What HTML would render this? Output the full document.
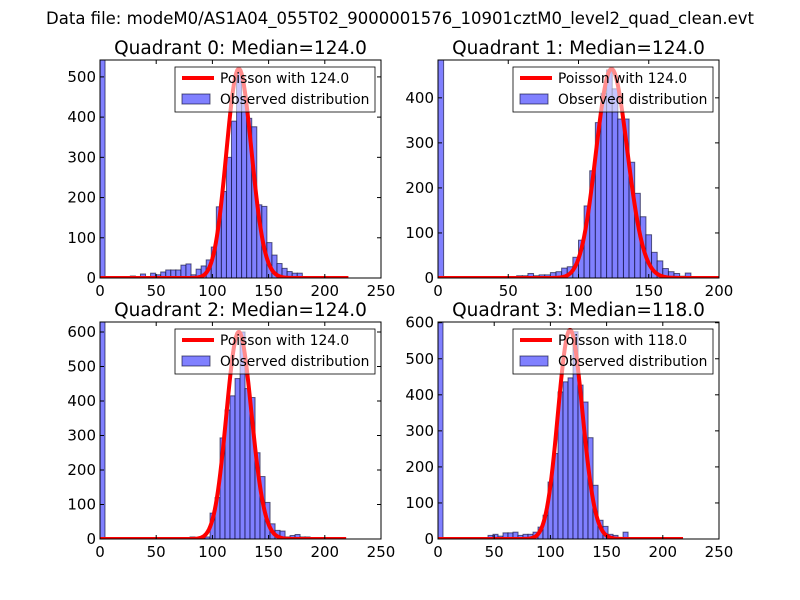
<!DOCTYPE html>
<html><head><meta charset="utf-8"><style>
body{margin:0;background:#fff;}
svg{display:block;font-family:"DejaVu Sans","Liberation Sans",sans-serif;}
</style></head><body>
<svg id="fig" width="800" height="600" viewBox="0 0 800 600">
<rect width="800" height="600" fill="#fff"/>
<text x="400" y="24" text-anchor="middle" font-size="16.5">Data file: modeM0/AS1A04_055T02_9000001576_10901cztM0_level2_quad_clean.evt</text>
</svg>
<script>
const q0Counts=[542,0,0,0,0,0,5,0,10,3,12,8,15,20,20,20,32,35,8,22,30,45,77,177,215,300,390,517,450,397,376,182,178,88,57,36,24,16,12,12,2,2,1,1];
const q1Counts=[484,0,0,0,0,0,0,0,0,0,0,0,2,3,5,5,10,5,7,7,12,14,22,25,46,84,160,238,345,410,462,420,353,353,257,188,136,96,57,38,21,14,10,4,11,2,1];
const q2Counts=[629,0,0,0,0,0,0,0,0,0,0,0,0,0,0,0,1,2,6,3,2,6,75,120,293,374,415,465,600,436,410,250,181,106,44,25,23,6,10,13,6,6,2,1];
const q3Counts=[602,0,0,0,0,0,0,0,0,0,10,13,8,17,17,19,10,13,13,19,33,66,158,237,408,436,447,575,427,380,281,149,52,35,13,10,4,19,4,2,3];
const binWidths=[4.5,4.0,4.45,4.45];
const medians=[124.0,124.0,124.0,118.0];
const poissonScale=[14525,12960,16760,15800];
const curveMax=[221,200,219,218];
const xMaxes=[250,200,250,250];
const yMaxes=[542,484,629,602];
const xTicks=[[0,50,100,150,200,250],[0,50,100,150,200],[0,50,100,150,200,250],[0,50,100,150,200,250]];
const yTicks=[[0,100,200,300,400,500],[0,100,200,300,400],[0,100,200,300,400,500,600],[0,100,200,300,400,500,600]];
const allCounts=[q0Counts,q1Counts,q2Counts,q3Counts];
const NS="http://www.w3.org/2000/svg";
const fig=document.getElementById('fig');
function mk(tag,attrs,parent){const e=document.createElementNS(NS,tag);for(const k in attrs)e.setAttribute(k,attrs[k]);(parent||fig).appendChild(e);return e;}
function lpmf(k,l){let lg=0;for(let i=2;i<=k;i++)lg+=Math.log(i);return k*Math.log(l)-l-lg;}
const boxes=[[100,60,381,278],[438,60,719,278],[100,322,381,539],[438,322,719,539]];
for(let q=0;q<4;q++){
  const [L,T,R,B]=boxes[q];
  const g=mk('g',{});
  
  
  const xs=v=>L+v/xMaxes[q]*(R-L);
  const ys=v=>B-v/yMaxes[q]*(B-T);
  const clipId='clip'+q;
  const cp=mk('clipPath',{id:clipId},g);mk('rect',{x:L,y:T,width:R-L,height:B-T},cp);
  const plot=mk('g',{'clip-path':'url(#'+clipId+')'},g);
  const counts=allCounts[q],w=binWidths[q];
  counts.forEach((c,i)=>{
    if(c<=0)return;
    const r=mk('rect',{x:xs(i*w),y:ys(c),width:xs((i+1)*w)-xs(i*w),height:B-ys(c),fill:'#8080ff',stroke:'rgba(0,0,40,0.6)','stroke-width':1},plot);
    
    
  });
  let pts=[];
  for(let k=0;k<=curveMax[q];k++){pts.push(xs(k).toFixed(2)+','+ys(poissonScale[q]*Math.exp(lpmf(k,medians[q]))).toFixed(2));}
  const pl=mk('polyline',{points:pts.join(' '),fill:'none',stroke:'#ff0000','stroke-width':4,'stroke-linejoin':'round'},plot);
  
  
  mk('rect',{x:L,y:T,width:R-L,height:B-T,fill:'none',stroke:'#000','stroke-width':1},g);
  xTicks[q].forEach(v=>{
    const x=xs(v);
    mk('line',{x1:x,y1:B,x2:x,y2:B-4,stroke:'#000'},g);
    mk('line',{x1:x,y1:T,x2:x,y2:T+4,stroke:'#000'},g);
    const t=mk('text',{x:x,y:B+18,'text-anchor':'middle','font-size':15},g);t.textContent=v;
    
    
  });
  yTicks[q].forEach(v=>{
    const y=ys(v);
    mk('line',{x1:L,y1:y,x2:L+4,y2:y,stroke:'#000'},g);
    mk('line',{x1:R,y1:y,x2:R-4,y2:y,stroke:'#000'},g);
    const t=mk('text',{x:L-4,y:y+5,'text-anchor':'end','font-size':15},g);t.textContent=v;
    
    
  });
  const ti=mk('text',{x:(L+R)/2,y:T-6,'text-anchor':'middle','font-size':18.5},g);
  ti.textContent='Quadrant '+q+': Median='+medians[q].toFixed(1);
  
  
  const lg=mk('g',{},g);
  
  
  const lx=L+75,ly=T+7;
  mk('rect',{x:lx,y:ly,width:200,height:45,fill:'rgba(255,255,255,0.55)',stroke:'#000','stroke-width':0.8},lg);
  mk('line',{x1:lx+7,y1:ly+11,x2:lx+39,y2:ly+11,stroke:'#ff0000','stroke-width':4},lg);
  const t1=mk('text',{x:lx+45,y:ly+16,'font-size':13.8},lg);t1.textContent='Poisson with '+medians[q].toFixed(1);
  
  
  mk('rect',{x:lx+7,y:ly+27,width:28,height:10,fill:'#8080ff',stroke:'rgba(0,0,40,0.6)'},lg);
  const t2=mk('text',{x:lx+45,y:ly+37,'font-size':13.8},lg);t2.textContent='Observed distribution';
  
  
}
</script>
</body></html>
